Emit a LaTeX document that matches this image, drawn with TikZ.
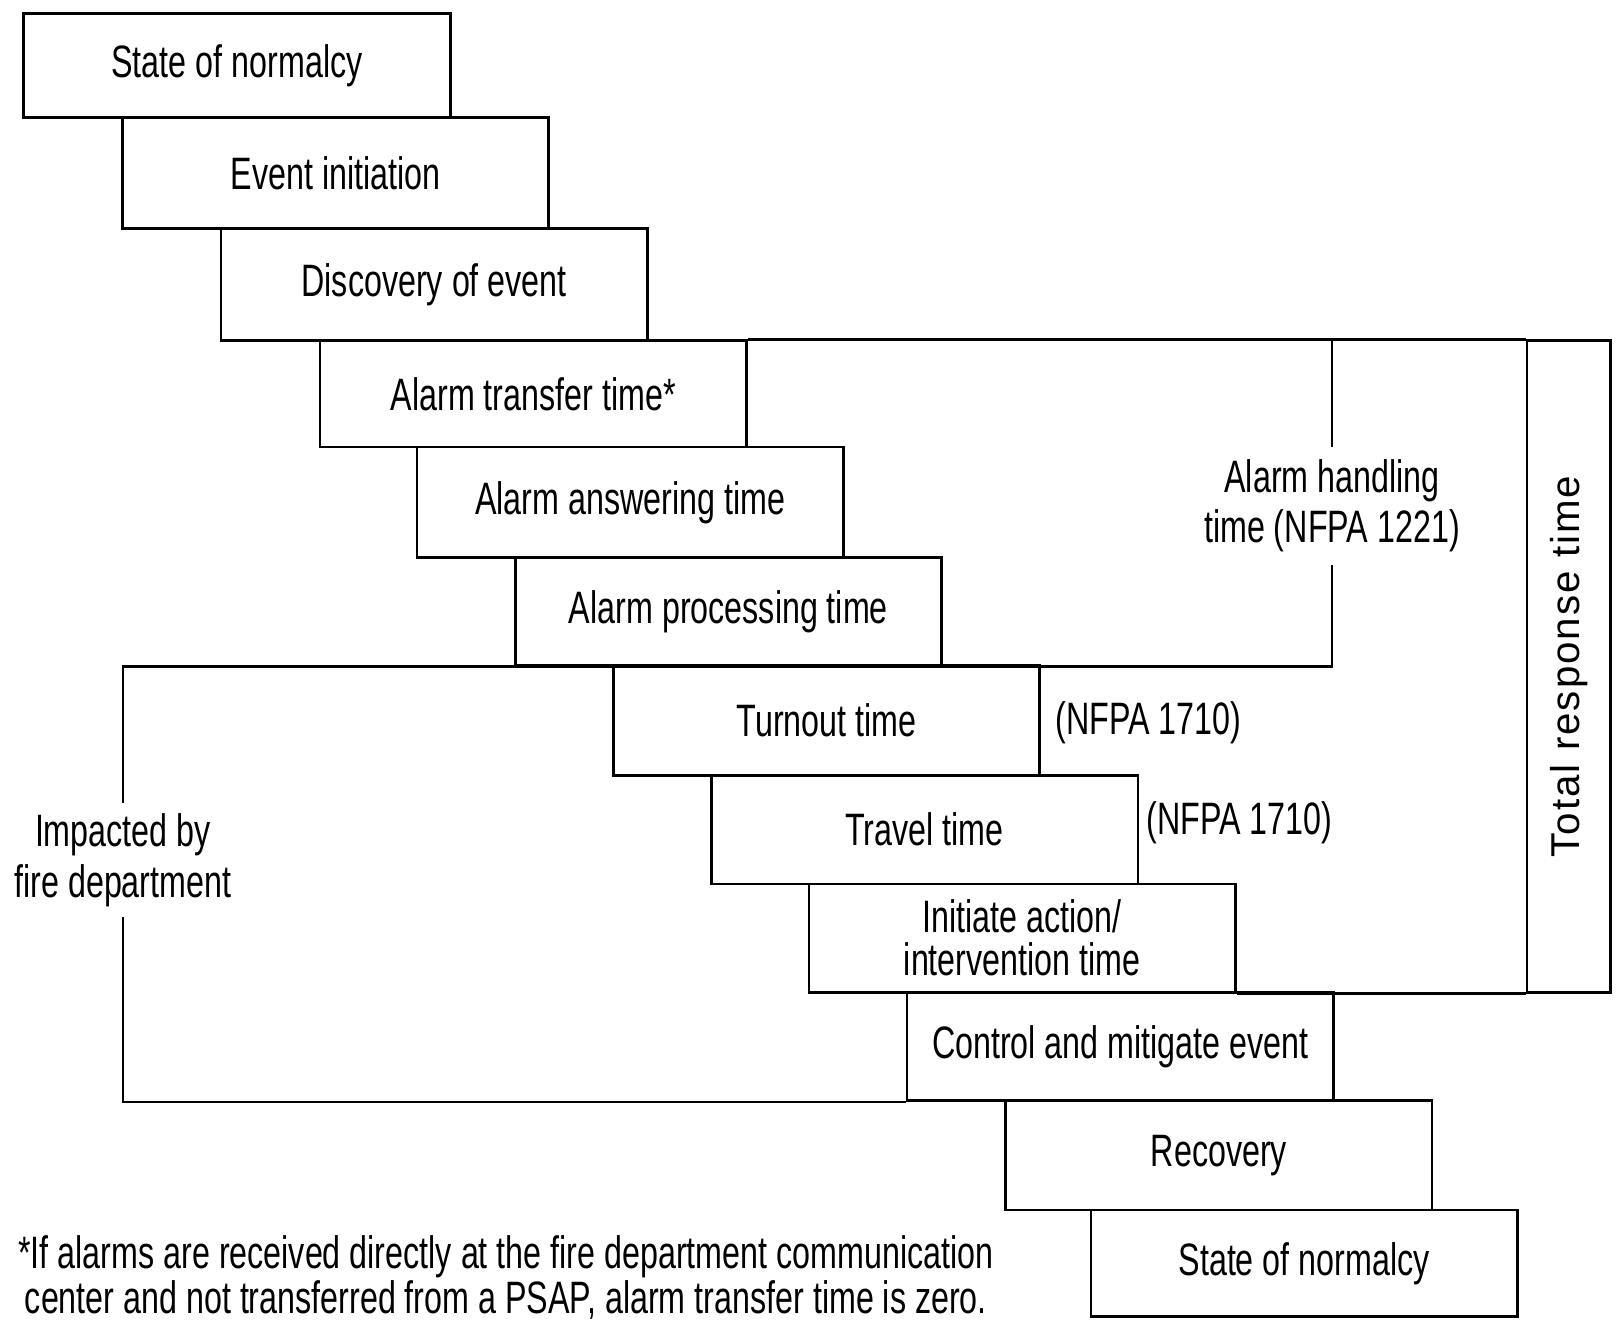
\documentclass[tikz,border=0pt]{standalone}
\usepackage{fontspec}
\setmainfont{Liberation Sans}[FakeStretch=0.71]
\newfontfamily\trtfont{Liberation Sans}[LetterSpace=5]
\begin{document}
\begin{tikzpicture}[x=1pt,y=-1pt,
  box/.style={draw, line width=2.6pt, minimum width=413pt, inner sep=0pt, align=center,
    font=\fontsize{44}{42}\selectfont},
  lbl/.style={align=center, font=\fontsize{44}{49}\selectfont, inner xsep=2pt},
  conn/.style={line width=2.6pt}]
\useasboundingbox (0,0) rectangle (1568,1279);
\node[box, minimum height=101pt] (b1) at (229.5,63.5) {State of normalcy};
\node[box, minimum height=107pt] (b2) at (325,167.5) {Event initiation};
\node[box, minimum height=109pt] (b3) at (420.5,275.5) {Discovery of event};
\node[box, minimum height=103pt] (b4) at (516.5,381.5) {Alarm transfer time*};
\node[box, minimum height=107pt] (b5) at (610.5,486.5) {Alarm answering time};
\node[box, minimum height=104pt] (b6) at (705.5,592) {Alarm processing time};
\node[box, minimum height=107pt] (b7) at (800.5,697.5) {Turnout time};
\node[box, minimum height=105pt] (b8) at (895.5,803.5) {Travel time};
\node[box, minimum height=105pt] (b9) at (990,908.5) {Initiate action/\\intervention time};
\node[box, minimum height=105pt] (b10) at (1085,1013.5) {Control and mitigate event};
\node[box, minimum height=106pt] (b11) at (1180.5,1119) {Recovery};
\node[box, minimum height=103pt] (b12) at (1263,1223.5) {State of normalcy};
% total response time
\node[draw, line width=2.6pt, minimum width=81pt, minimum height=631pt, inner sep=0pt] (trt) at (1519.5,645.5) {};
\node[rotate=90, font=\trtfont\fontsize{39}{39}\selectfont] (trtl) at (trt.center) {Total response time};
% labels
\node[lbl, inner ysep=12pt] (ah) at (1290,490) {Alarm handling\\time (NFPA 1221)};
\node[lbl, inner ysep=10pt] (imp) at (119,833) {Impacted by\\fire department};
\node[lbl, anchor=west, inner sep=0pt] (n1) at (1022,700) {(NFPA 1710)};
\node[lbl, anchor=west, inner sep=0pt] (n2) at (1110,797) {(NFPA 1710)};
\node[lbl, font=\fontsize{44}{43}\selectfont] (note) at (490,1237) {*If alarms are received directly at the fire department communication\\center and not transferred from a PSAP, alarm transfer time is zero.};
% connectors
\draw[conn] (b4.north east) -- (trt.north west);
\draw[conn] (b9.south east) -- (trt.south west);
\draw[conn] (ah.north |- b4.north) -- (ah.north);
\draw[conn] (ah.south) -- (ah.south |- b6.south) -- (imp.north |- b6.south) -- (imp.north);
\draw[conn] (imp.south) -- (imp.south |- b10.south) -- (b10.south west);
\end{tikzpicture}
\end{document}
